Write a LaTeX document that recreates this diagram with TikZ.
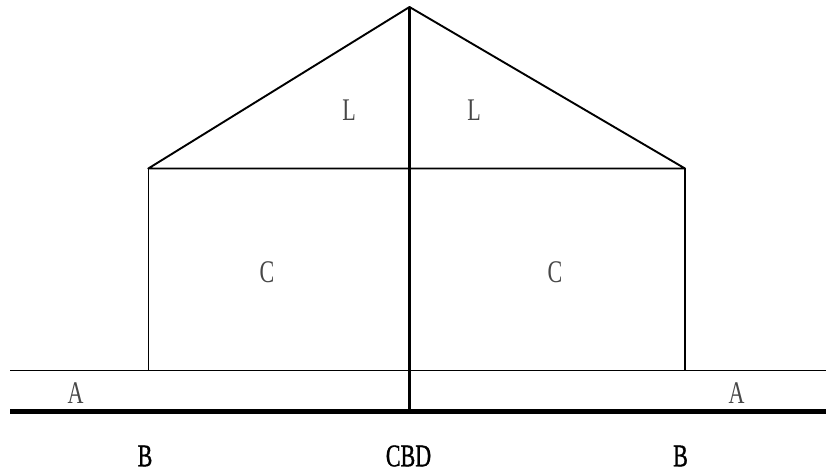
\documentclass[tikz,border=0pt]{standalone}
\usepackage{fontspec}
\setmainfont{Liberation Serif}
\newfontfamily\heavyserif[FakeBold=1.2]{Liberation Serif}
\begin{document}
\begin{tikzpicture}[x=1pt,y=-1pt,
  lbl/.style={inner sep=0pt, font=\fontsize{31.5}{32}\selectfont},
  soft/.style={lbl, text=black!72},
  hard/.style={lbl, text=black, font=\heavyserif\fontsize{31.5}{32}\selectfont},
  roof/.style={line width=1.9pt, line cap=round, line join=round},
  wall/.style={line width=1.5pt},
  ground/.style={line width=1.4pt},
  road/.style={line width=5pt},
  axis/.style={line width=3pt}]
\useasboundingbox (0,0) rectangle (826,470);
\coordinate (apex) at (409.5,7);
\coordinate (lc) at (148.3,168.5);
\coordinate (rc) at (685,168.5);
\coordinate (lb) at (148.3,370.5);
\coordinate (rb) at (685,370.5);
\coordinate (gl) at (10,370.5);
\coordinate (gr) at (826,370.5);
\coordinate (tl) at (10,411.5);
\coordinate (tr) at (826,411.5);
\coordinate (cb) at (409.5,411.5);
% walls
\draw[wall] (lc) -- (lb);
\draw[wall] (rc) -- (rb);
% ground line
\draw[ground] (gl) -- (gr);
% roof
\draw[roof] (lc) -- (apex) -- (rc) -- cycle;
% thick road
\draw[road] (tl) -- (tr);
% central axis
\draw[axis] (apex) -- (cb);
% labels
\node[soft] (l1) at (349,110) {\scalebox{0.7}[1]{L}};
\node[soft] (l2) at (474,110) {\scalebox{0.7}[1]{L}};
\node[soft] (c1) at (267,272) {\scalebox{0.7}[1]{C}};
\node[soft] (c2) at (555,272) {\scalebox{0.7}[1]{C}};
\node[soft] (a1) at (75.5,393) {\scalebox{0.7}[1]{A}};
\node[soft] (a2) at (736.5,393) {\scalebox{0.7}[1]{A}};
\node[hard] (b1) at (145,456) {\scalebox{0.7}[1]{B}};
\node[hard] (cbd) at (408.5,456) {\scalebox{0.7}[1]{CBD}};
\node[hard] (b2) at (680.5,456) {\scalebox{0.7}[1]{B}};
\end{tikzpicture}
\end{document}
